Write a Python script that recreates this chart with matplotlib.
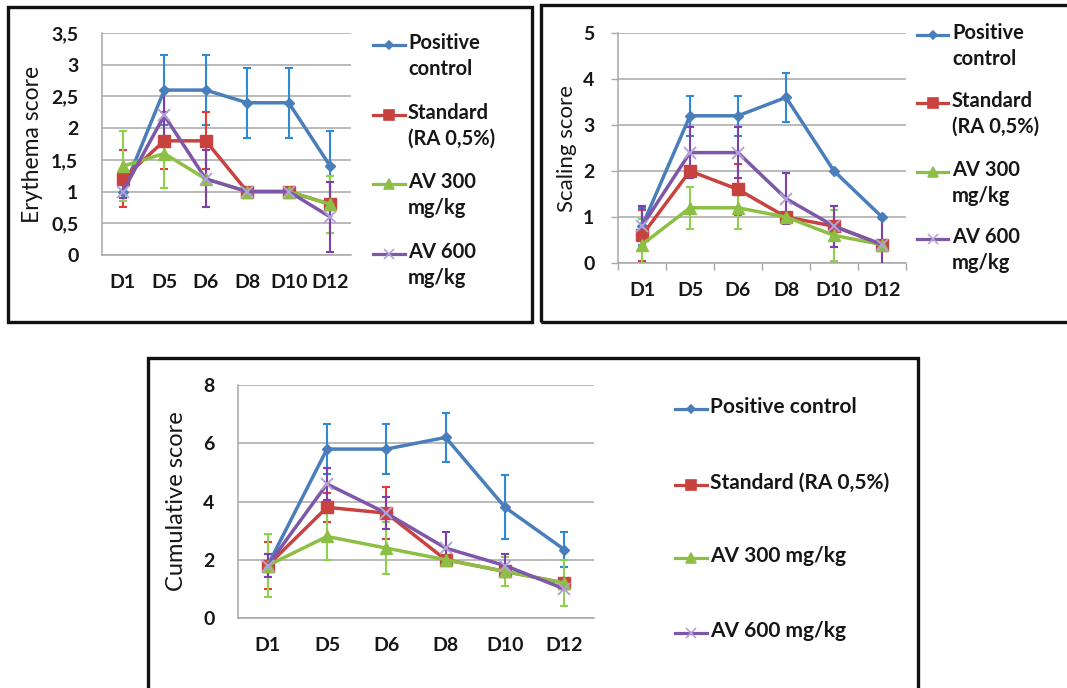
import matplotlib
matplotlib.use("Agg")
import matplotlib.pyplot as plt
from matplotlib.lines import Line2D
from matplotlib.patches import Rectangle

# ---------------- data ----------------
days = ["D1", "D5", "D6", "D8", "D10", "D12"]
series_names = ["Positive control", "Standard (RA 0,5%)", "AV 300 mg/kg", "AV 600 mg/kg"]
legend_wrapped = ["Positive\ncontrol", "Standard\n(RA 0,5%)", "AV 300\nmg/kg", "AV 600\nmg/kg"]

# Erythema score
ery_pos = [1.0, 2.6, 2.6, 2.4, 2.4, 1.4]
ery_pos_err = [0.1, 0.55, 0.55, 0.55, 0.55, 0.55]
ery_std = [1.2, 1.8, 1.8, 1.0, 1.0, 0.8]
ery_std_err = [0.45, 0.45, 0.45, 0.0, 0.0, 0.45]
ery_av300 = [1.4, 1.6, 1.2, 1.0, 1.0, 0.8]
ery_av300_err = [0.55, 0.55, 0.45, 0.0, 0.0, 0.45]
ery_av600 = [1.0, 2.2, 1.2, 1.0, 1.0, 0.6]
ery_av600_err = [0.1, 0.4, 0.45, 0.0, 0.0, 0.55]
ery_ticks = [0, 0.5, 1, 1.5, 2, 2.5, 3, 3.5]
ery_ticklabels = ["0", "0,5", "1", "1,5", "2", "2,5", "3", "3,5"]

# Scaling score
sca_pos = [0.8, 3.2, 3.2, 3.6, 2.0, 1.0]
sca_pos_err = [0.4, 0.44, 0.44, 0.54, 0.0, 0.0]
sca_std = [0.6, 2.0, 1.6, 1.0, 0.8, 0.4]
sca_std_err = [0.55, 0.0, 0.55, 0.0, 0.45, 0.0]
sca_av300 = [0.4, 1.2, 1.2, 1.0, 0.6, 0.4]
sca_av300_err = [0.55, 0.45, 0.45, 0.0, 0.55, 0.0]
sca_av600 = [0.8, 2.4, 2.4, 1.4, 0.8, 0.4]
sca_av600_err = [0.45, 0.55, 0.55, 0.55, 0.45, 0.55]
sca_ticks = [0, 1, 2, 3, 4, 5]
sca_ticklabels = ["0", "1", "2", "3", "4", "5"]

# Cumulative score
cum_pos = [1.8, 5.8, 5.8, 6.2, 3.8, 2.35]
cum_pos_err = [0.4, 0.87, 0.87, 0.85, 1.1, 0.6]
cum_std = [1.8, 3.8, 3.6, 2.0, 1.6, 1.2]
cum_std_err = [0.8, 0.5, 0.9, 0.0, 0.0, 0.0]
cum_av300 = [1.8, 2.8, 2.4, 2.0, 1.6, 1.2]
cum_av300_err = [1.07, 0.8, 0.9, 0.0, 0.5, 0.8]
cum_av600 = [1.8, 4.6, 3.6, 2.4, 1.8, 1.0]
cum_av600_err = [0.4, 0.55, 0.55, 0.55, 0.4, 0.0]
cum_ticks = [0, 2, 4, 6, 8]
cum_ticklabels = ["0", "2", "4", "6", "8"]

# ---------------- style ----------------
line_colors = ["#4a7ebb", "#c8433f", "#8cbf44", "#7e57a8"]
err_colors = ["#2f8ad6", "#e23b36", "#8fd14f", "#7a3fb0"]
marker_face = ["#4a7ebb", "#c8433f", "#8cbf44", "#b3a4d8"]
markers = ["D", "s", "^", "x"]
msizes = [5, 8, 8, 8]

FONT = "Lato"
plt.rcParams["font.family"] = [FONT, "DejaVu Sans"]
TXT = "#161616"

W, H = 1067, 688
fig = plt.figure(figsize=(W / 100, H / 100), dpi=100)


def px_axes(l, t, r, b):
    return fig.add_axes([l / W, 1 - b / H, (r - l) / W, (b - t) / H])


def draw_chart(ax, series, errs, ymax, ticks, ticklabels, ylabel, ylab_x,
               tick_fs, lab_fs, ytick_len, xminor):
    x = list(range(len(days)))
    for i, (vals, err) in enumerate(zip(series, errs)):
        ax.errorbar(x, vals, yerr=err, fmt="none", ecolor=err_colors[i],
                    elinewidth=1.5, capsize=3, capthick=1.5, zorder=3 + i)
    for i, vals in enumerate(series):
        ax.plot(x, vals, color=line_colors[i], lw=2.5, marker=markers[i],
                ms=msizes[i], mfc=marker_face[i], mec=marker_face[i],
                mew=1.4 if markers[i] == "x" else 1, zorder=8 + i)
    ax.set_xlim(-0.5, len(days) - 0.5)
    ax.set_ylim(0, ymax)
    ax.set_xticks(x)
    ax.set_xticklabels(days, fontsize=tick_fs, fontweight="bold", color=TXT)
    ax.set_yticks(ticks)
    ax.set_yticklabels(ticklabels, fontsize=tick_fs, fontweight="bold", color=TXT)
    ax.tick_params(axis="x", length=0, pad=14)
    ax.tick_params(axis="y", length=ytick_len, width=1, color="#a8a8a8",
                   pad=17 - ytick_len)
    if xminor:
        ax.set_xticks([k + 0.5 for k in range(-1, len(days))], minor=True)
        ax.tick_params(axis="x", which="minor", length=5, width=1, color="#a8a8a8")
    ax.yaxis.grid(True, color="#b4b4b4", lw=1.3)
    ax.set_axisbelow(True)
    for s in ["top", "right"]:
        ax.spines[s].set_visible(False)
    for s in ["left", "bottom"]:
        ax.spines[s].set_color("#a8a8a8")
        ax.spines[s].set_linewidth(1.1)
    ax.set_ylabel(ylabel, fontsize=lab_fs, color=TXT, va="center")
    ax.yaxis.set_label_coords(ylab_x, 0.5)


def draw_legend(x0, x1, xt, ys, labels, fs):
    for i, (y, lab) in enumerate(zip(ys, labels)):
        yf = 1 - y / H
        fig.add_artist(Line2D([x0 / W, x1 / W], [yf, yf], transform=fig.transFigure,
                              color=line_colors[i], lw=2.3))
        fig.add_artist(Line2D([(x0 + x1) / 2 / W], [yf], transform=fig.transFigure,
                              color=marker_face[i], lw=0, marker=markers[i],
                              ms=msizes[i] * 0.85, mfc=marker_face[i], mec=marker_face[i],
                              mew=1.2))
        fig.text(xt / W, yf + 12 / H, lab, fontsize=fs, fontweight="bold", color=TXT,
                 va="top", ha="left", linespacing=1.35, transform=fig.transFigure)


# frames
for (l, t, r, b) in [(8, 7, 532, 322), (541, 5, 1075, 322), (148, 358, 918, 700)]:
    fig.add_artist(Rectangle((l / W, 1 - b / H), (r - l) / W, (b - t) / H,
                             transform=fig.transFigure, fill=False,
                             edgecolor="#111111", lw=2.4))

ax1 = px_axes(102, 33, 351, 255)
draw_chart(ax1, [ery_pos, ery_std, ery_av300, ery_av600],
           [ery_pos_err, ery_std_err, ery_av300_err, ery_av600_err],
           3.5, ery_ticks, ery_ticklabels, "Erythema score", -0.28, 14, 16.5, 0, False)
draw_legend(373, 405, 408, [45, 115, 184, 254], legend_wrapped, 14.5)

ax2 = px_axes(618, 33, 906, 263)
draw_chart(ax2, [sca_pos, sca_std, sca_av300, sca_av600],
           [sca_pos_err, sca_std_err, sca_av300_err, sca_av600_err],
           5, sca_ticks, sca_ticklabels, "Scaling score", -0.177, 14, 16, 5, True)
draw_legend(917, 948, 952, [35, 103, 172, 239], legend_wrapped, 14.5)

ax3 = px_axes(238, 385, 594, 618)
draw_chart(ax3, [cum_pos, cum_std, cum_av300, cum_av600],
           [cum_pos_err, cum_std_err, cum_av300_err, cum_av600_err],
           8, cum_ticks, cum_ticklabels, "Cumulative score", -0.174, 14, 17, 0, False)
draw_legend(675, 707, 710, [409, 485, 558, 633], series_names, 15)

fig.savefig("out.png", dpi=100)
